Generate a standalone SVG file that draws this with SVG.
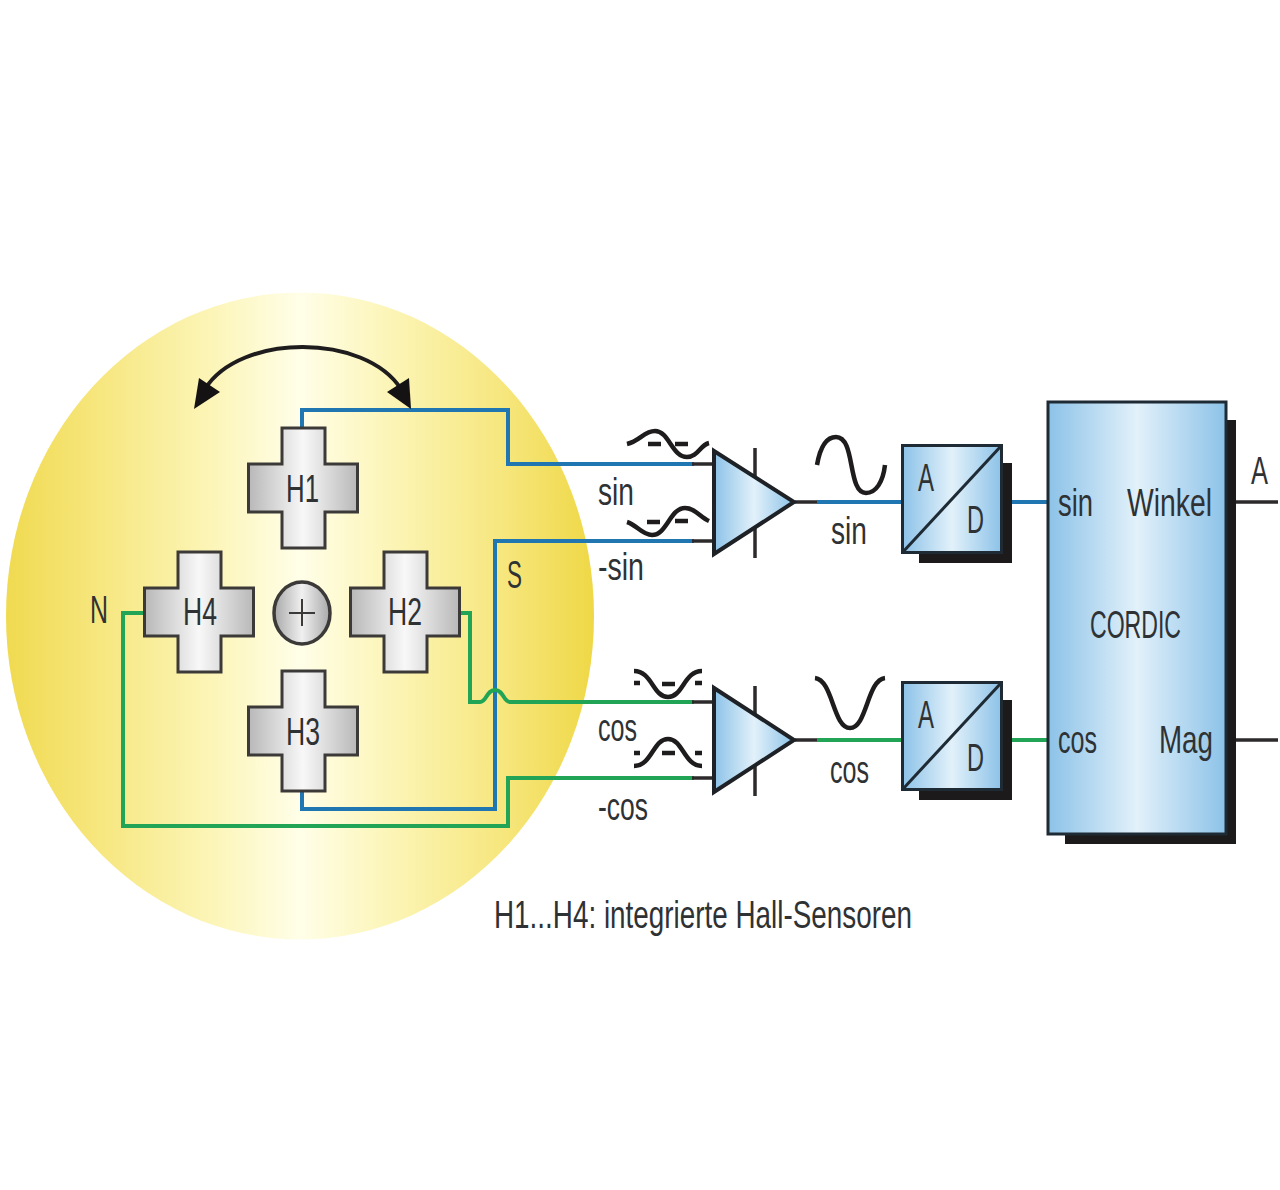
<svg xmlns="http://www.w3.org/2000/svg" xmlns:xlink="http://www.w3.org/1999/xlink" width="1280" height="1190" viewBox="0 0 1280 1190">
<style>
text{font-family:"Liberation Sans Narrow","Liberation Sans",sans-serif;font-size:39px;fill:#2f3234}
.cross{fill:url(#gGrey);stroke:#3c3a38;stroke-width:3}
.b{fill:none;stroke:#1f76b0;stroke-width:4}
.g{fill:none;stroke:#22a456;stroke-width:4}
.d{fill:none;stroke:#2c2a2a;stroke-width:3.5}
.wave{fill:none;stroke:#1e1c1c;stroke-width:4.5}
.amp{fill:url(#gBlue);stroke:#1e2226;stroke-width:4}
.box{fill:url(#gBlue);stroke:#1e2a34;stroke-width:3}
.sh{fill:#1c1a1a}
</style>
<defs>
<linearGradient id="gYellow"><stop offset="0" stop-color="#f0da50"/><stop offset=".15" stop-color="#f6e67c"/><stop offset=".35" stop-color="#fcf5b8"/><stop offset=".5" stop-color="#fffee8"/><stop offset=".65" stop-color="#fcf5b8"/><stop offset=".85" stop-color="#f6e67c"/><stop offset="1" stop-color="#efd846"/></linearGradient>
<linearGradient id="gGrey"><stop offset="0" stop-color="#b8b8b8"/><stop offset=".5" stop-color="#f8f8f8"/><stop offset="1" stop-color="#b8b8b8"/></linearGradient>
<linearGradient id="gCirc"><stop offset="0" stop-color="#a8a8a8"/><stop offset=".5" stop-color="#f0f0f0"/><stop offset="1" stop-color="#a8a8a8"/></linearGradient>
<linearGradient id="gBlue"><stop offset="0" stop-color="#8cc2e8"/><stop offset=".5" stop-color="#e2f1fa"/><stop offset="1" stop-color="#8cc2e8"/></linearGradient>
<path id="crossShape" d="M-21,-60H22V-24H54.500V24H22V60H-21V24H-54.500V-24H-21Z"/>
</defs>
<rect width="1280" height="1190" fill="#fff"/>
<ellipse id="disc" cx="300" cy="616" rx="294" ry="323.500" fill="url(#gYellow)"/>

<g id="connectors">
<path class="b" d="M302,428V410H508V464H694"/>
<path class="b" d="M302,791V809H495V541H694"/>
<path class="g" d="M460,613H470V702H480C487,702 486,690 495,690C504,690 503,702 510,702H694"/>
<path class="g" d="M145,613H123V826H508V778H694"/>
<path class="d" d="M692,464H713M692,541H713M692,702H713M692,778H713M795,502H817M795,740H817"/>
<path class="b" d="M817,502H902M1012,502H1048"/>
<path class="g" d="M817,740H902M1012,740H1048"/>
<path class="d" d="M1236,502H1278M1236,740H1278"/>
<path d="M205,389C240,333 365,333 401,389" fill="none" stroke="#1e1c1c" stroke-width="4"/>
<path d="M194,409L199,378L220,392Z" fill="#141212"/>
<path d="M411,409L387,392L409,378Z" fill="#141212"/>
</g>

<g id="h1"><use xlink:href="#crossShape" href="#crossShape" x="303" y="488" class="cross"/><text x="286" y="502" textLength="33" lengthAdjust="spacingAndGlyphs">H1</text></g>
<g id="h2"><use xlink:href="#crossShape" href="#crossShape" x="405" y="612" class="cross"/><text x="388" y="625" textLength="34" lengthAdjust="spacingAndGlyphs">H2</text></g>
<g id="h3"><use xlink:href="#crossShape" href="#crossShape" x="303" y="731" class="cross"/><text x="286" y="745" textLength="34" lengthAdjust="spacingAndGlyphs">H3</text></g>
<g id="h4"><use xlink:href="#crossShape" href="#crossShape" x="199" y="612" class="cross"/><text x="183" y="625" textLength="34" lengthAdjust="spacingAndGlyphs">H4</text></g>
<g id="center"><ellipse cx="302" cy="613" rx="28" ry="31" fill="url(#gCirc)" stroke="#3c3a38" stroke-width="3.500"/><path d="M302,599V626M289,613H315" stroke="#3c3a38" stroke-width="2" fill="none"/></g>

<g id="amp-sin">
<path class="d" d="M755,448V558"/>
<path class="amp" d="M714,451L794,502L714,554Z"/>
<path class="wave" d="M627,444C640,441 644,431 655,431C669,431 672,457 687,457C698,457 700,445 709,443"/>
<path class="wave" d="M648,444H661M675,444H688"/>
<path class="wave" d="M627,522C637,525 642,535 652,535C667,535 670,508 685,508C695,508 700,517 709,521"/>
<path class="wave" d="M647,522H660M675,521H688"/>
</g>
<g id="amp-cos">
<path class="d" d="M755,686V796"/>
<path class="amp" d="M714,688L794,740L714,792Z"/>
<path class="wave" d="M634,671C652,671 653,697 668,697C683,697 684,671 702,671"/>
<path class="wave" d="M634,683H640M662,684H675M695,683H702"/>
<path class="wave" d="M634,766C652,766 653,739 668,739C683,739 684,766 702,766"/>
<path class="wave" d="M634,753H640M662,753H675M695,753H702"/>
</g>
<path id="wave-sin" class="wave" d="M817,465C820,448 826,437 836,437C856,437 847,493 866,493C876,493 883,482 885,465"/>
<path id="wave-cos" class="wave" d="M815,678C833,680 833,728 850,728C867,728 867,680 885,678"/>

<g id="adc-sin">
<path class="sh" d="M919,463H1012V563H919Z"/>
<rect class="box" x="902.500" y="445.500" width="99" height="107"/>
<path d="M902,553L1002,445" stroke="#1e2a34" stroke-width="3" fill="none"/>
<text x="918" y="491" textLength="16" lengthAdjust="spacingAndGlyphs">A</text>
<text x="967" y="533" textLength="17" lengthAdjust="spacingAndGlyphs">D</text>
</g>
<g id="adc-cos">
<path class="sh" d="M919,700H1012V800H919Z"/>
<rect class="box" x="902.500" y="682.500" width="99" height="107"/>
<path d="M902,790L1002,682" stroke="#1e2a34" stroke-width="3" fill="none"/>
<text x="918" y="728" textLength="16" lengthAdjust="spacingAndGlyphs">A</text>
<text x="967" y="771" textLength="17" lengthAdjust="spacingAndGlyphs">D</text>
</g>
<g id="cordic">
<path class="sh" d="M1065,420H1236V844H1065Z"/>
<rect class="box" x="1048" y="402" width="178" height="432"/>
<text x="1090" y="638" textLength="91" lengthAdjust="spacingAndGlyphs">CORDIC</text>
<text x="1058" y="516" textLength="35" lengthAdjust="spacingAndGlyphs">sin</text>
<text x="1127" y="516" textLength="85" lengthAdjust="spacingAndGlyphs">Winkel</text>
<text x="1058" y="753" textLength="39" lengthAdjust="spacingAndGlyphs">cos</text>
<text x="1159" y="753" textLength="54" lengthAdjust="spacingAndGlyphs">Mag</text>
</g>
<g id="labels">
<text x="598" y="505" textLength="36" lengthAdjust="spacingAndGlyphs">sin</text>
<text x="598" y="580" textLength="46" lengthAdjust="spacingAndGlyphs">-sin</text>
<text x="507" y="588" textLength="15" lengthAdjust="spacingAndGlyphs">S</text>
<text x="90" y="623" textLength="18" lengthAdjust="spacingAndGlyphs">N</text>
<text x="598" y="741" textLength="39" lengthAdjust="spacingAndGlyphs">cos</text>
<text x="598" y="820" textLength="50" lengthAdjust="spacingAndGlyphs">-cos</text>
<text x="831" y="544" textLength="36" lengthAdjust="spacingAndGlyphs">sin</text>
<text x="830" y="783" textLength="39" lengthAdjust="spacingAndGlyphs">cos</text>
<text x="1251" y="484" textLength="17" lengthAdjust="spacingAndGlyphs">A</text>
<text x="494" y="928" textLength="418" lengthAdjust="spacingAndGlyphs">H1...H4: integrierte Hall-Sensoren</text>
</g>
</svg>
